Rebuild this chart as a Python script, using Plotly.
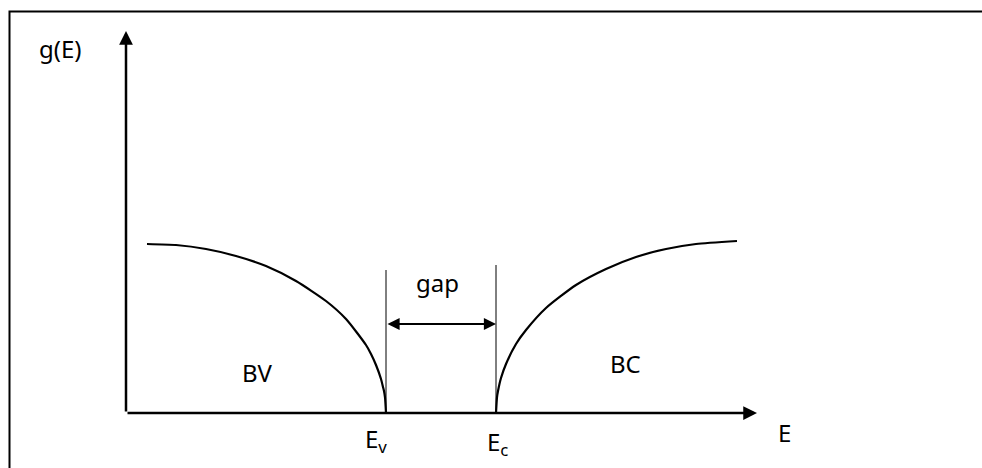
import plotly.graph_objects as go

# ---- data (schematic) ----
E_V = 2.60          # valence band edge
E_C = 3.70          # conduction band edge
E_AXIS_END = 6.31
G_AXIS_END = 3.82

bv_E = [0.21, 0.50, 0.80, 1.10, 1.40, 1.70, 2.00, 2.20, 2.40, 2.45, 2.50, 2.55, 2.57, 2.58, 2.59, 2.60]
bv_g = [1.69, 1.68, 1.64, 1.57, 1.47, 1.32, 1.12, 0.94, 0.68, 0.59, 0.48, 0.34, 0.26, 0.22, 0.155, 0.0]

bc_E = [3.70, 3.71, 3.72, 3.75, 3.80, 3.90, 4.00, 4.20, 4.50, 4.80, 5.10, 5.40, 5.70, 6.11]
bc_g = [0.0, 0.157, 0.22, 0.35, 0.49, 0.69, 0.83, 1.05, 1.28, 1.44, 1.56, 1.64, 1.69, 1.72]

EV_LINE_TOP = 1.43
EC_LINE_TOP = 1.48
GAP_LEVEL = 0.89

labels = {
    "g(E)": (-0.66, 3.65),
    "E": (6.58, -0.19),
    "E<sub>v</sub>": (2.50, -0.27),
    "E<sub>c</sub>": (3.71, -0.30),
    "BV": (1.31, 0.41),
    "BC": (4.99, 0.50),
    "gap": (3.11, 1.31),
}

FONT = "Noto Sans"
fig = go.Figure()

for xs, ys in ((bv_E, bv_g), (bc_E, bc_g)):
    fig.add_trace(go.Scatter(x=xs, y=ys, mode="lines",
                             line=dict(color="black", width=2.2, shape="spline", smoothing=0.6),
                             hoverinfo="skip", showlegend=False))

# vertical band-edge lines
for xv, top in ((E_V, EV_LINE_TOP), (E_C, EC_LINE_TOP)):
    fig.add_shape(type="line", xref="x", yref="y", x0=xv, x1=xv, y0=0, y1=top,
                  line=dict(color="black", width=1))

# axes arrows
fig.add_annotation(x=E_AXIS_END, y=0, ax=0, ay=0, xref="x", yref="y", axref="x", ayref="y",
                   text="", showarrow=True, arrowhead=2, arrowsize=1.1, arrowwidth=2.5,
                   arrowcolor="black", standoff=0, startstandoff=0)
fig.add_annotation(x=0, y=G_AXIS_END, ax=0, ay=0, xref="x", yref="y", axref="x", ayref="y",
                   text="", showarrow=True, arrowhead=2, arrowsize=1.1, arrowwidth=2.5,
                   arrowcolor="black", standoff=0, startstandoff=0)

# gap double arrow
fig.add_annotation(x=E_C, y=GAP_LEVEL, ax=E_V, ay=GAP_LEVEL, xref="x", yref="y", axref="x", ayref="y",
                   text="", showarrow=True, arrowhead=2, startarrowhead=2, arrowside="end+start",
                   arrowsize=1.1, startarrowsize=1.1, arrowwidth=2.2,
                   arrowcolor="black", standoff=0, startstandoff=0)

for txt, (x, y) in labels.items():
    fig.add_annotation(x=x, y=y, xref="x", yref="y", text=txt, showarrow=False,
                       font=dict(family=FONT, size=24, color="black"))

# outer frame
fig.add_shape(type="rect", xref="paper", yref="paper", x0=9.5 / 982, x1=1.2,
              y0=-0.2, y1=1 - 11.5 / 468, line=dict(color="black", width=2))

fig.update_layout(
    width=982, height=468,
    margin=dict(l=0, r=0, t=0, b=0),
    paper_bgcolor="white", plot_bgcolor="white",
    xaxis=dict(range=[-1.26, 8.56], visible=False, fixedrange=True),
    yaxis=dict(range=[-0.55, 4.13], visible=False, fixedrange=True),
    showlegend=False,
)

fig.write_html("out.html", config={"displayModeBar": False},
               post_script="document.body.style.margin='0';document.body.style.overflow='hidden';")
